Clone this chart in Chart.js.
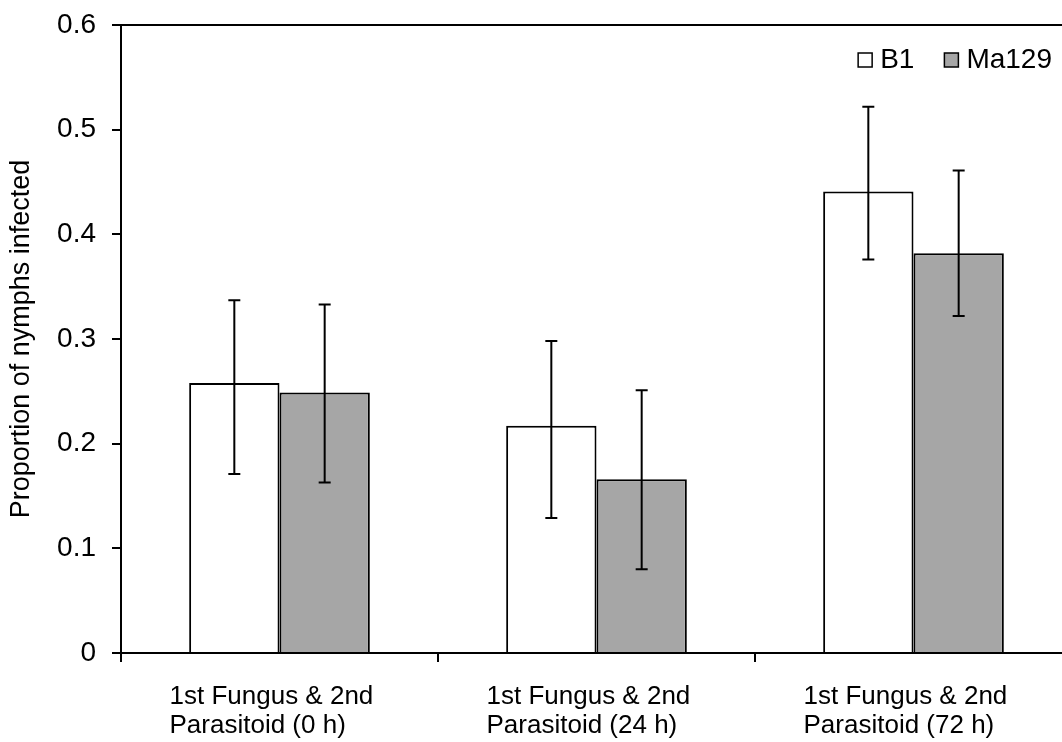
<!DOCTYPE html>
<html lang="en">
  <head>
    <meta charset="UTF-8" />
    <meta name="viewport" content="width=device-width, initial-scale=1.0" />
    <script src="https://cdn.jsdelivr.net/npm/chart.js@4.4.0/dist/chart.umd.min.js"></script>
    <title>Proportion of nymphs infected</title>
    <style>
      html,
      body {
        margin: 0;
        padding: 0;
        overflow: hidden;
        background: #fff;
      }
    </style>
  </head>
  <body>
    <!-- plot runs a little past the right edge, like the original -->
    <canvas id="chart" width="1080" height="742"></canvas>
    <script>
      let categories = [
        ["1st Fungus & 2nd", "Parasitoid (0 h)"],
        ["1st Fungus & 2nd", "Parasitoid (24 h)"],
        ["1st Fungus & 2nd", "Parasitoid (72 h)"],
      ];
      let b1 = [0.258, 0.217, 0.441];
      let b1Upper = [0.337, 0.298, 0.522];
      let b1Lower = [0.171, 0.129, 0.376];
      let ma129 = [0.249, 0.166, 0.382];
      let ma129Upper = [0.333, 0.251, 0.461];
      let ma129Lower = [0.163, 0.08, 0.322];

      const FONT = "'Liberation Sans', Arial, sans-serif";
      Chart.defaults.font.family = FONT;
      Chart.defaults.color = "#000";

      // whiskers drawn from the y scale, centred on each bar
      const errorBars = {
        id: "errorBars",
        afterDatasetsDraw(chart) {
          const ctx = chart.ctx;
          const y = chart.scales.y;
          ctx.save();
          ctx.strokeStyle = "#000";
          ctx.lineWidth = 2;
          chart.data.datasets.forEach((ds, i) => {
            chart.getDatasetMeta(i).data.forEach((bar, j) => {
              const top = y.getPixelForValue(ds.upper[j]);
              const bottom = y.getPixelForValue(ds.lower[j]);
              ctx.beginPath();
              ctx.moveTo(bar.x, top);
              ctx.lineTo(bar.x, bottom);
              ctx.moveTo(bar.x - 6, top);
              ctx.lineTo(bar.x + 6, top);
              ctx.moveTo(bar.x - 6, bottom);
              ctx.lineTo(bar.x + 6, bottom);
              ctx.stroke();
            });
          });
          ctx.restore();
        },
      };

      // excel-style legend: one row, top right, inside the plot
      const insideLegend = {
        id: "insideLegend",
        afterDraw(chart) {
          const { ctx, chartArea } = chart;
          ctx.save();
          ctx.font = "28px " + FONT;
          ctx.textBaseline = "middle";
          ctx.textAlign = "left";
          let x = chartArea.right - 20;
          const y = chartArea.top + 35;
          for (let i = chart.data.datasets.length - 1; i >= 0; i--) {
            const ds = chart.data.datasets[i];
            x -= ctx.measureText(ds.label).width;
            ctx.fillStyle = "#000";
            ctx.fillText(ds.label, x, y);
            x -= 8 + 14;
            ctx.fillStyle = ds.backgroundColor;
            ctx.fillRect(x, y - 7, 14, 14);
            ctx.lineWidth = 1.5;
            ctx.strokeStyle = "#000";
            ctx.strokeRect(x, y - 7, 14, 14);
            x -= 30;
          }
          ctx.restore();
        },
      };

      let ctx = document.getElementById("chart").getContext("2d");
      let myChart = new Chart(ctx, {
        type: "bar",
        data: {
          labels: categories,
          datasets: [
            {
              label: "B1",
              data: b1,
              upper: b1Upper,
              lower: b1Lower,
              backgroundColor: "#ffffff",
              borderColor: "#000",
              borderWidth: 2,
            },
            {
              label: "Ma129",
              data: ma129,
              upper: ma129Upper,
              lower: ma129Lower,
              backgroundColor: "#a6a6a6",
              borderColor: "#000",
              borderWidth: 2,
            },
          ],
        },
        options: {
          responsive: false,
          animation: false,
          layout: { padding: { top: 25, right: 8, left: 0, bottom: 0 } },
          datasets: {
            bar: { barPercentage: 1, categoryPercentage: 0.57 },
          },
          plugins: {
            tooltip: { enabled: false },
            legend: { display: false },
          },
          scales: {
            x: {
              afterFit: (axis) => {
                axis.height = 89;
                axis.paddingLeft = 0;
                axis.paddingRight = 0;
              },
              border: { display: true, color: "#000", width: 2 },
              grid: {
                offset: true,
                drawOnChartArea: false,
                color: "#000",
                tickColor: "#000",
                tickLength: 9,
                lineWidth: 2,
              },
              ticks: {
                // wrapped labels are left aligned in the original
                font: { size: 26, lineHeight: 1.1 },
                align: "start",
                labelOffset: -110,
                padding: 21,
                maxRotation: 0,
              },
            },
            y: {
              min: 0,
              max: 0.6,
              afterFit: (axis) => {
                axis.width = 121;
                axis.paddingTop = 0;
                axis.paddingBottom = 0;
              },
              border: { display: true, color: "#000", width: 2 },
              grid: {
                // only the top line shows inside the plot
                color: (c) =>
                  c.tick && Math.abs(c.tick.value - 0.6) < 1e-9 ? "#000" : "rgba(0,0,0,0)",
                tickColor: "#000",
                tickLength: 9,
                lineWidth: 2,
              },
              ticks: {
                stepSize: 0.1,
                font: { size: 28 },
                padding: 16,
                callback: (v) => (v === 0 ? "0" : v.toFixed(1)),
              },
              title: {
                display: true,
                text: "Proportion of nymphs infected",
                font: { size: 27 },
                padding: { top: 5, bottom: 0 },
              },
            },
          },
        },
        plugins: [errorBars, insideLegend],
      });
    </script>
  </body>
</html>
